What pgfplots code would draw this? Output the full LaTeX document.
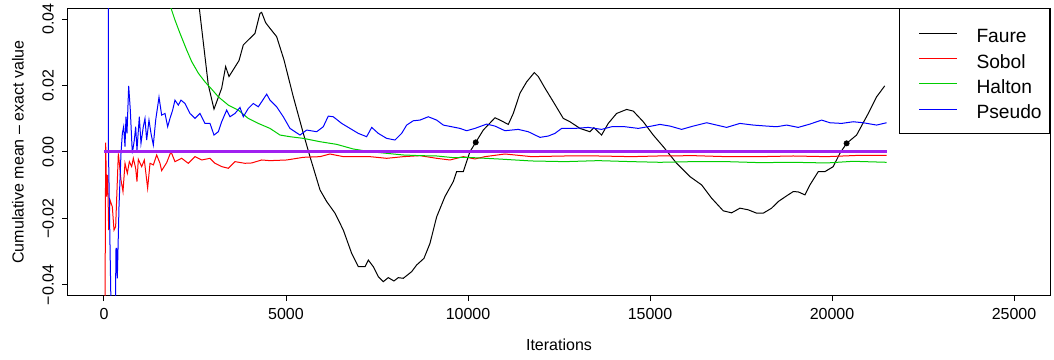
\documentclass[border=0pt]{standalone}
\usepackage{pgfplots}
\pgfplotsset{compat=1.18}
\usepackage{fontspec}
\setmainfont{Liberation Sans}
\definecolor{rgreen}{RGB}{0,205,0}
\definecolor{rpurple}{RGB}{160,32,240}
\begin{document}
\fontsize{12pt}{14.4pt}\selectfont
\begin{tikzpicture}[font=\fontsize{12pt}{14.4pt}\selectfont]
\begin{axis}[
  scale only axis,
  width=737.1pt, height=215.4pt,
  xmin=-1000, xmax=26000, ymin=-0.0432, ymax=0.0432,
  scaled ticks=false,
  axis line style={line width=0.75pt},
  xtick={0,5000,10000,15000,20000,25000},
  xticklabels={0,5000,10000,15000,20000,25000},
  ytick={-0.04,-0.02,0,0.02,0.04},
  yticklabels={−0.04,−0.02,0.00,0.02,0.04},
  tick align=outside, xtick pos=left, ytick pos=left,
  major tick length=4.1pt,
  tick style={line width=0.75pt, black},
  xticklabel style={anchor=north, inner sep=0pt, yshift=-5.5pt},
  yticklabel style={rotate=90, anchor=south, inner sep=0pt, inner ysep=6pt},
  xlabel={Iterations},
  ylabel={Cumulative mean – exact value},
  xlabel style={at={([yshift=-37pt]axis description cs:0.5,0)}, anchor=center, inner sep=0pt},
  ylabel style={at={([xshift=-37.2pt]axis description cs:0,0.5)}, anchor=center, inner sep=0pt},
  legend style={at={(rel axis cs:1,1)}, anchor=north east, draw=black, line width=0.75pt,
    inner xsep=14.25pt, inner ysep=9.6pt, row sep=1.2pt, column sep=14.25pt,
    font=\fontsize{14.4pt}{17pt}\selectfont,
    nodes={inner sep=0pt}},
  legend image code/.code={\draw[#1] (0pt,0pt) -- (28.5pt,0pt);},
  legend cell align=left,
]
\coordinate (bl) at (rel axis cs:0,0);
\coordinate (tr) at (rel axis cs:1,1);

% Faure
\addplot[black, line width=0.75pt] coordinates {
(2000,0.09) (2618,0.0433) (2865,0.0202) (3022,0.0129) (3233,0.0192) (3342,0.0257) (3434,0.0227) (3709,0.0275) (3827,0.0322) (4148,0.0357) (4285,0.0417) (4331,0.042) (4441,0.0389) (4560,0.0372) (4743,0.0347) (4945,0.0277) (5201,0.0166) (5476,0.0056) (5659,-0.0014) (5934,-0.0114) (6117,-0.0149) (6346,-0.0184) (6575,-0.0235) (6804,-0.0305) (6987,-0.0345) (7170,-0.0345) (7261,-0.0325) (7398,-0.0345) (7536,-0.0375) (7673,-0.039) (7810,-0.0378) (7966,-0.0388) (8085,-0.0378) (8222,-0.038) (8452,-0.036) (8589,-0.034) (8790,-0.032) (8955,-0.0275) (9139,-0.0195) (9367,-0.0134) (9596,-0.0089) (9688,-0.0059) (9871,-0.0059) (10054,0.0001) (10212,0.0029) (10420,0.0066) (10741,0.0103) (10878,0.0096) (11107,0.0083) (11244,0.0116) (11428,0.0177) (11611,0.0211) (11822,0.0239) (11931,0.0227) (12115,0.0192) (12344,0.0151) (12618,0.0101) (12801,0.0091) (13076,0.0071) (13350,0.0061) (13460,0.0073) (13670,0.0051) (13853,0.0086) (14083,0.0116) (14358,0.0128) (14540,0.0123) (14815,0.0091) (15089,0.0051) (15364,0.0016) (15731,-0.0034) (16097,-0.0074) (16418,-0.0099) (16693,-0.0139) (17013,-0.0177) (17242,-0.0183) (17471,-0.0169) (17700,-0.0174) (17929,-0.0184) (18112,-0.0184) (18341,-0.0169) (18524,-0.0149) (18753,-0.0132) (18936,-0.0119) (19073,-0.012) (19256,-0.0129) (19394,-0.0099) (19623,-0.0059) (19806,-0.0059) (20034,-0.0044) (20217,-0.0004) (20401,0.0026) (20676,0.0051) (20996,0.0116) (21225,0.0166) (21450,0.0199)
};
\addlegendentry{\makebox[40.8pt][l]{\rule[-3.1pt]{0pt}{19pt}Faure}}

% Sobol
\addplot[red, line width=0.75pt] coordinates {
(10,-0.1) (46,0.0028) (73,-0.0134) (101,-0.0069) (128,-0.0235) (165,-0.0144) (229,-0.0165) (275,-0.0235) (320,-0.0225) (394,-0.0004) (467,-0.0084) (522,-0.0119) (577,-0.0034) (641,-0.0064) (696,-0.0029) (760,-0.0044) (806,-0.0019) (870,-0.0049) (906,-0.0089) (943,-0.0022) (1035,-0.0044) (1108,-0.0024) (1199,-0.0109) (1264,-0.0034) (1355,-0.0039) (1447,-0.0009) (1538,-0.0034) (1584,-0.0056) (1722,-0.0032) (1840,0.0001) (1950,-0.0029) (2134,-0.0019) (2316,-0.0034) (2500,-0.0014) (2684,-0.0024) (2912,-0.0019) (3049,-0.0034) (3233,-0.0044) (3416,-0.0049) (3599,-0.0029) (3873,-0.0034) (4058,-0.0033) (4331,-0.0024) (4560,-0.0026) (5019,-0.0024) (5476,-0.0016) (5934,-0.0014) (6208,-0.0006) (6575,-0.0014) (6942,-0.0014) (7307,-0.0014) (7765,-0.0019) (8222,-0.0014) (8680,-0.0011) (9139,-0.0019) (9505,-0.0024) (9871,-0.0014) (10191,-0.0021) (10466,-0.0014) (11015,-0.0006) (11748,-0.0014) (12664,-0.0012) (13579,-0.0012) (14495,-0.0014) (15227,-0.0012) (16189,-0.0011) (17104,-0.0014) (18020,-0.0014) (18936,-0.0012) (19852,-0.0014) (20767,-0.0010) (21500,-0.0010)
};
\addlegendentry{\makebox[40.8pt][l]{\rule[-3.1pt]{0pt}{19pt}Sobol}}

% Halton
\addplot[rgreen, line width=0.75pt] coordinates {
(1000,0.09) (1400,0.058) (1840,0.0433) (1950,0.0397) (2088,0.0357) (2271,0.0307) (2409,0.0272) (2592,0.0237) (2774,0.0211) (2958,0.0189) (3141,0.0166) (3416,0.0141) (3690,0.0126) (3964,0.0101) (4239,0.0086) (4560,0.0071) (4835,0.0051) (5109,0.0046) (5476,0.0041) (5934,0.0031) (6392,0.0023) (6850,0.0009) (7307,0.0001) (7765,-0.0004) (8222,-0.0009) (8680,-0.0011) (9139,-0.0012) (9596,-0.0017) (9963,-0.0016) (10832,-0.0021) (11748,-0.0027) (12664,-0.0029) (13579,-0.0026) (14495,-0.0029) (15273,-0.0031) (16189,-0.0029) (17104,-0.0029) (18020,-0.0032) (18936,-0.0031) (19852,-0.0033) (20583,-0.0028) (21500,-0.0031)
};
\addlegendentry{\makebox[40.8pt][l]{\rule[-3.1pt]{0pt}{19pt}Halton}}

% Pseudo
\addplot[blue, line width=0.75pt] coordinates {
(110,0.3) (118,0.004) (212,-0.06) (300,-0.06) (330,-0.029) (345,-0.029) (366,-0.038) (412,-0.0165) (467,-0.0004) (504,0.0056) (540,0.0076) (577,0.0016) (604,0.0106) (632,0.0056) (678,0.0199) (723,0.0126) (778,-0.0004) (833,0.0036) (870,0.0076) (906,0.0006) (970,0.0106) (1016,0.0026) (1080,0.0076) (1126,0.0101) (1172,0.0036) (1236,0.0096) (1291,0.0056) (1355,0.0021) (1420,0.0096) (1511,0.0165) (1584,0.0111) (1676,0.0116) (1749,0.0076) (1813,0.0101) (1886,0.0126) (1950,0.0156) (2042,0.0141) (2115,0.0156) (2225,0.0146) (2362,0.0116) (2500,0.0101) (2637,0.0116) (2774,0.0086) (2912,0.0086) (3022,0.0051) (3141,0.0061) (3233,0.0091) (3370,0.0126) (3461,0.0106) (3599,0.0116) (3736,0.0134) (3827,0.0106) (3964,0.0131) (4101,0.0146) (4239,0.0136) (4331,0.0151) (4469,0.0174) (4560,0.0156) (4743,0.0136) (4926,0.0106) (5109,0.0071) (5384,0.0051) (5568,0.0066) (5843,0.0061) (6024,0.0076) (6161,0.0108) (6299,0.0106) (6530,0.0086) (6758,0.0071) (6986,0.0056) (7216,0.0046) (7354,0.0074) (7536,0.0056) (7765,0.0041) (7994,0.0036) (8177,0.0056) (8315,0.0081) (8497,0.0094) (8680,0.0096) (8909,0.0106) (9139,0.0096) (9321,0.0081) (9551,0.0076) (9779,0.0071) (9963,0.0064) (10191,0.0071) (10513,0.0084) (10741,0.0078) (11015,0.0064) (11381,0.0068) (11656,0.0061) (11977,0.0044) (12205,0.0048) (12389,0.0056) (12573,0.0071) (12939,0.0071) (13305,0.0074) (13670,0.0068) (13946,0.0076) (14311,0.0076) (14677,0.0071) (15044,0.0078) (15273,0.0083) (15548,0.0078) (15869,0.0068) (16189,0.0078) (16556,0.0088) (16831,0.0081) (17104,0.0074) (17471,0.0086) (17838,0.0081) (18204,0.0078) (18479,0.0076) (18753,0.0081) (19073,0.0074) (19394,0.0084) (19715,0.0096) (19943,0.0088) (20265,0.0086) (20583,0.0091) (20858,0.0088) (21225,0.0081) (21500,0.0088)
};
\addlegendentry{\makebox[40.8pt][l]{\rule[-3.1pt]{0pt}{19pt}Pseudo}}

% exact value reference line
\addplot[rpurple, line width=2.25pt, forget plot] coordinates {(0,0) (21500,0)};

% marked points
\addplot[only marks, mark=*, mark size=2pt, black, forget plot] coordinates {(10212,0.0029) (20401,0.0026)};
\end{axis}
\pgfresetboundingbox
\path[use as bounding box] ([xshift=-50.7pt,yshift=-48.3pt]bl) rectangle ([xshift=2.7pt,yshift=6.3pt]tr);
\end{tikzpicture}
\end{document}
